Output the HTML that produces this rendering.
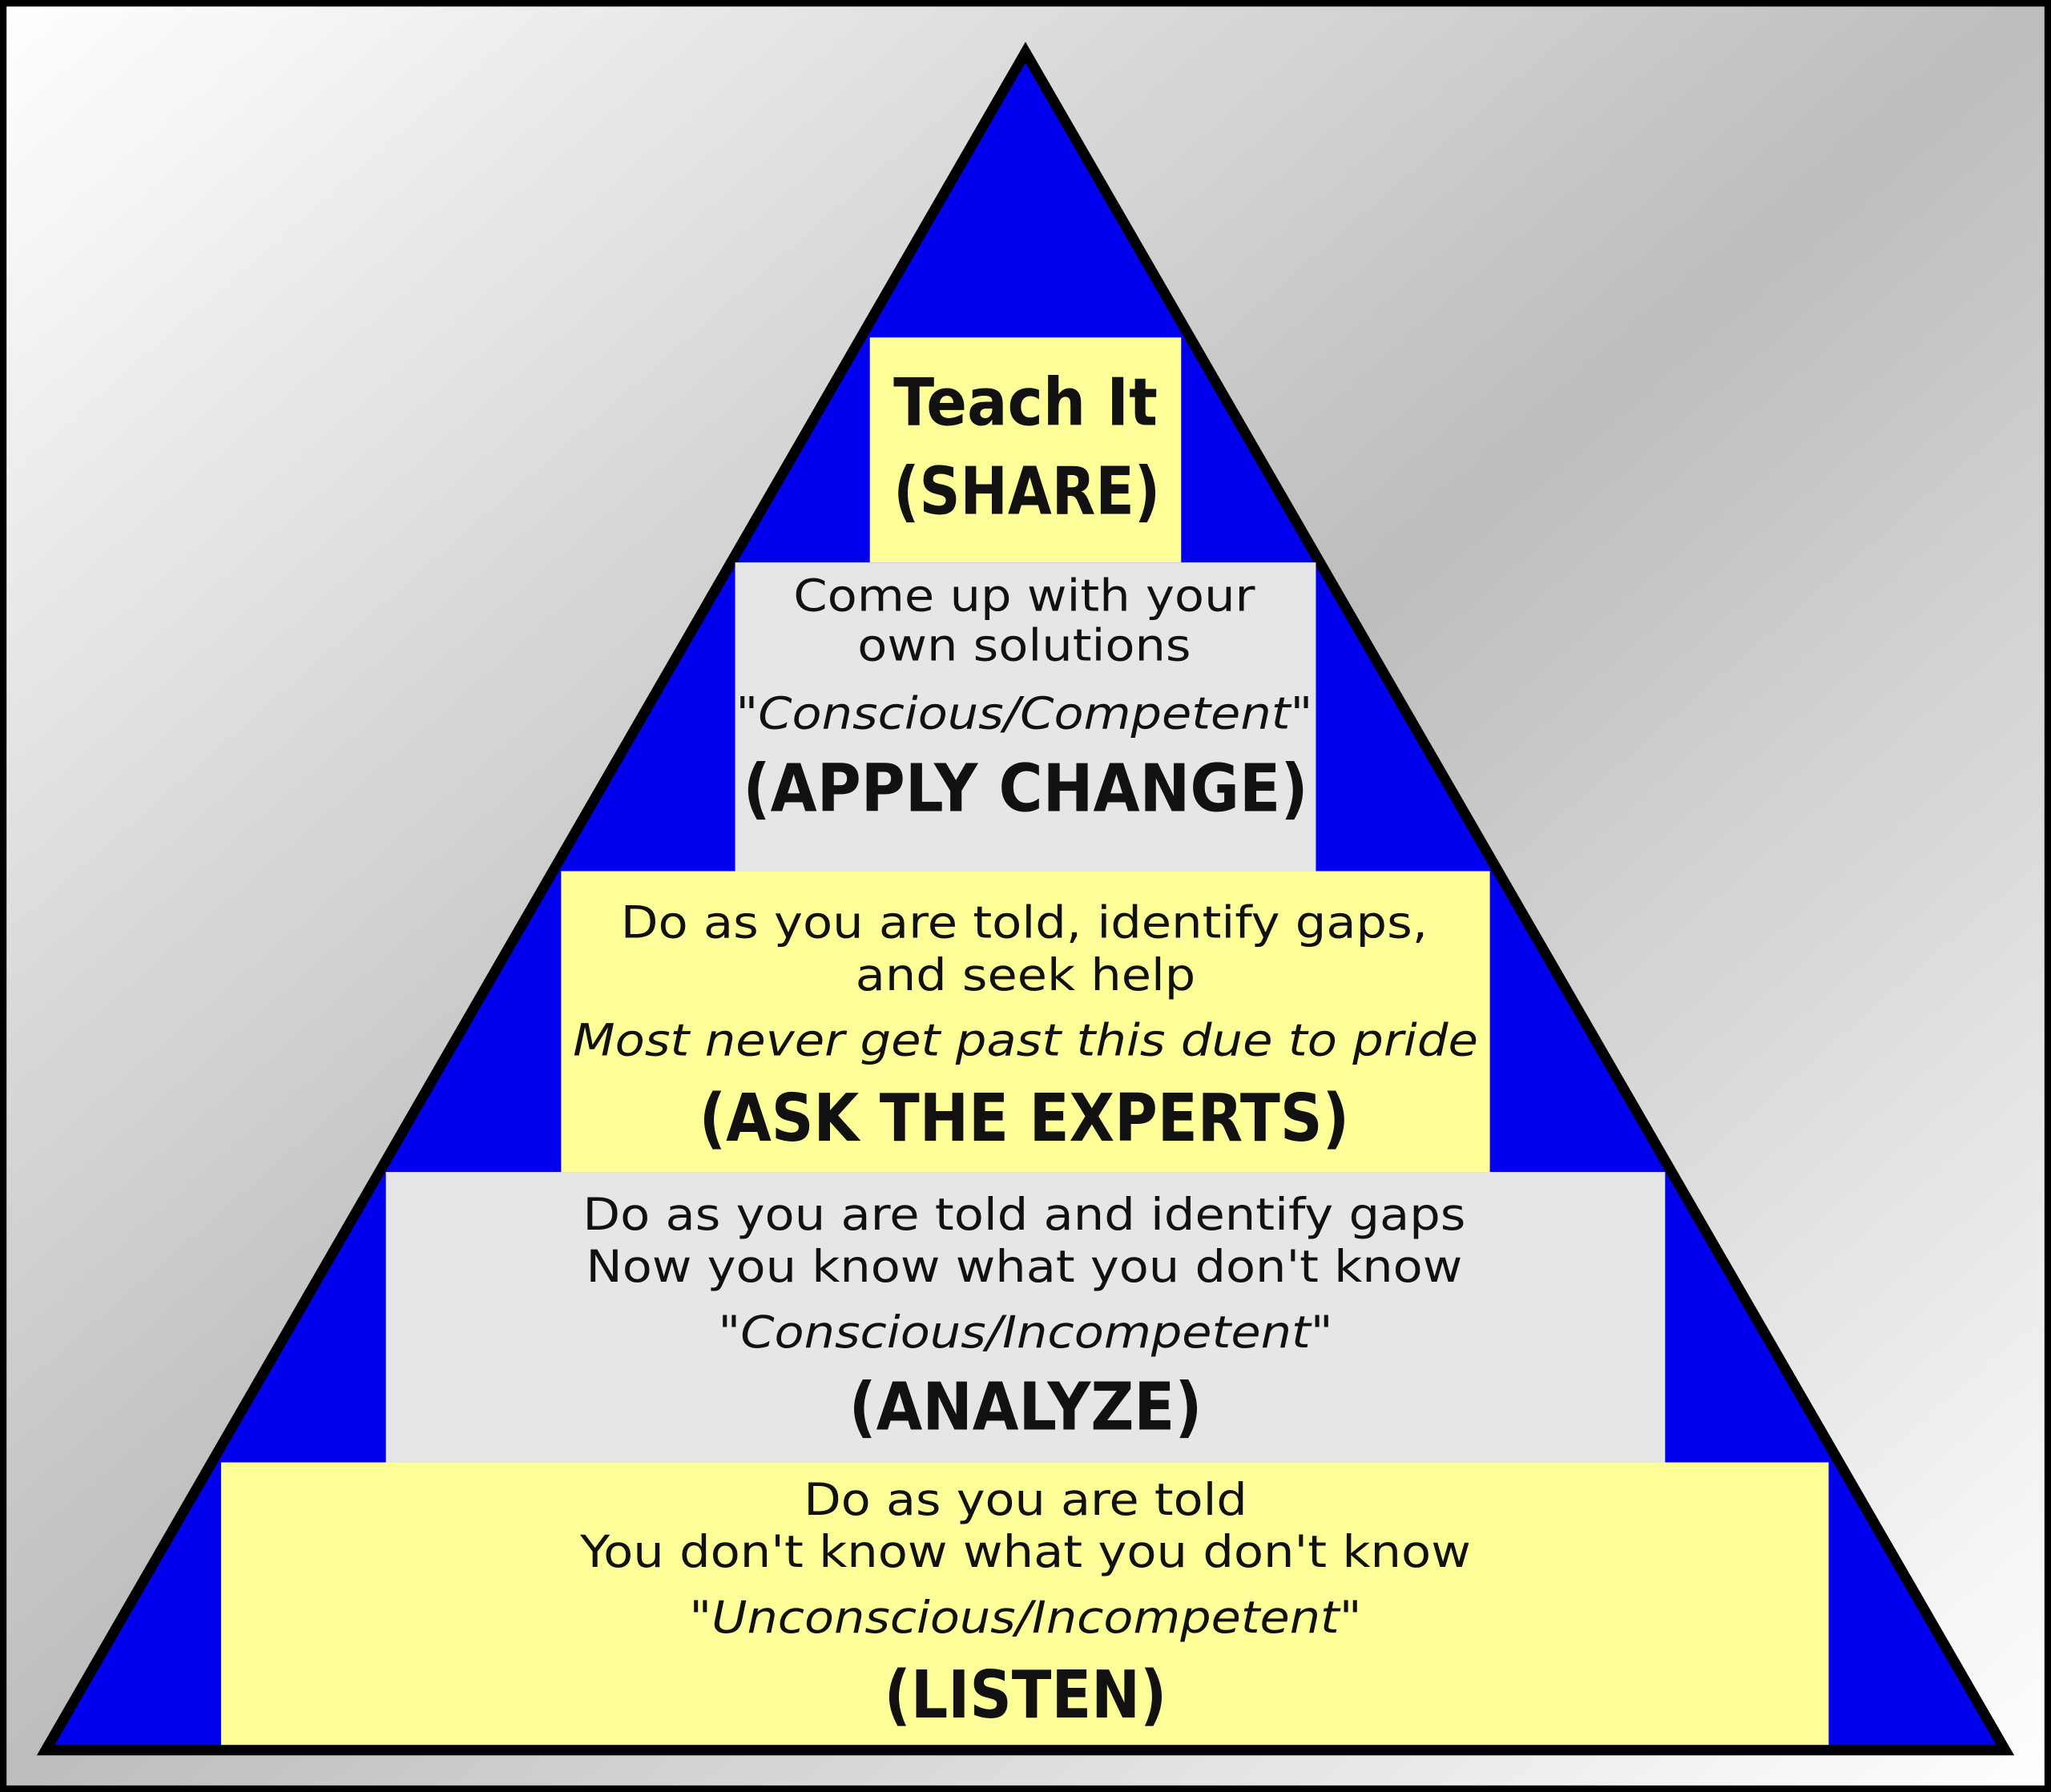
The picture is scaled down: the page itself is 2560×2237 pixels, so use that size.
<!DOCTYPE html>
<html><head><meta charset="utf-8"><style>
html,body{margin:0;padding:0;width:2560px;height:2237px;overflow:hidden}
svg{display:block}
.b{font-family:"DejaVu Sans","Liberation Sans",sans-serif;font-size:34px;fill:#111}
.i{font-style:italic}
.t{font-family:"DejaVu Sans","Liberation Sans",sans-serif;font-weight:bold;font-size:50px;fill:#111}
</style></head><body>
<svg width="2560" height="2237" viewBox="0 0 1568 1370" preserveAspectRatio="none" xmlns="http://www.w3.org/2000/svg">
<defs><linearGradient id="g" x1="0" y1="0" x2="1" y2="1">
<stop offset="0" stop-color="#ffffff"/><stop offset="0.5" stop-color="#bdbdbd"/><stop offset="1" stop-color="#ffffff"/></linearGradient></defs>
<rect x="2.5" y="2.5" width="1563" height="1365" fill="url(#g)" stroke="#000" stroke-width="5"/>
<polygon points="784,40 35,1338 1533,1338" fill="#0000ee" stroke="#000" stroke-width="8" stroke-linejoin="miter"/>
<rect x="665" y="258" width="238" height="172" fill="#ffff99"/>
<rect x="562" y="430" width="444" height="236" fill="#e6e6e6"/>
<rect x="429" y="666" width="710" height="230" fill="#ffff99"/>
<rect x="295" y="896" width="978" height="222" fill="#e6e6e6"/>
<rect x="169" y="1118" width="1229" height="216" fill="#ffff99"/>
<g text-anchor="middle">
<text class="t" x="784" y="325" textLength="202" lengthAdjust="spacingAndGlyphs">Teach It</text>
<text class="t" x="785" y="393" textLength="204" lengthAdjust="spacingAndGlyphs">(SHARE)</text>
<text class="b" x="783" y="467" textLength="353" lengthAdjust="spacingAndGlyphs">Come up with your</text>
<text class="b" x="783" y="505" textLength="255" lengthAdjust="spacingAndGlyphs">own solutions</text>
<text class="b" x="783" y="557" textLength="441" lengthAdjust="spacingAndGlyphs">"<tspan class="i">Conscious/Competent</tspan>"</text>
<text class="t" x="784" y="620" textLength="432" lengthAdjust="spacingAndGlyphs">(APPLY CHANGE)</text>
<text class="b" x="783" y="717" textLength="617" lengthAdjust="spacingAndGlyphs">Do as you are told, identify gaps,</text>
<text class="b" x="784" y="757" textLength="260" lengthAdjust="spacingAndGlyphs">and seek help</text>
<text class="b i" x="784" y="807" textLength="692" lengthAdjust="spacingAndGlyphs">Most never get past this due to pride</text>
<text class="t" x="783" y="872" textLength="497" lengthAdjust="spacingAndGlyphs">(ASK THE EXPERTS)</text>
<text class="b" x="783" y="940" textLength="675" lengthAdjust="spacingAndGlyphs">Do as you are told and identify gaps</text>
<text class="b" x="783" y="980" textLength="670" lengthAdjust="spacingAndGlyphs">Now you know what you don't know</text>
<text class="b" x="784" y="1030" textLength="470" lengthAdjust="spacingAndGlyphs">"<tspan class="i">Conscious/Incompetent</tspan>"</text>
<text class="t" x="784" y="1093" textLength="270" lengthAdjust="spacingAndGlyphs">(ANALYZE)</text>
<text class="b" x="784" y="1158" textLength="339" lengthAdjust="spacingAndGlyphs">Do as you are told</text>
<text class="b" x="784" y="1198" textLength="681" lengthAdjust="spacingAndGlyphs">You don't know what you don't know</text>
<text class="b" x="784" y="1248" textLength="514" lengthAdjust="spacingAndGlyphs">"<tspan class="i">Unconscious/Incompetent</tspan>"</text>
<text class="t" x="784" y="1313" textLength="216" lengthAdjust="spacingAndGlyphs">(LISTEN)</text>
</g>
</svg>
</body></html>
